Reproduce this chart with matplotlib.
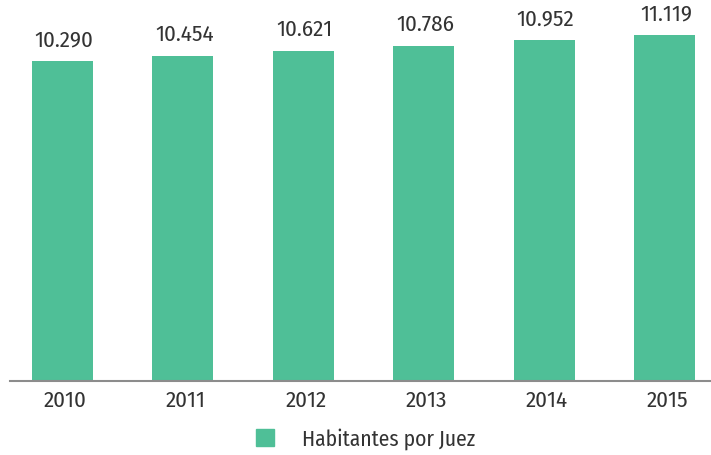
import matplotlib
matplotlib.use("Agg")
import matplotlib.pyplot as plt
import matplotlib.transforms as mtransforms
from matplotlib.font_manager import fontManager
from matplotlib.patches import Patch

years = ["2010", "2011", "2012", "2013", "2014", "2015"]
values = [10290, 10454, 10621, 10786, 10952, 11119]
labels = ["10.290", "10.454", "10.621", "10.786", "10.952", "11.119"]
series_name = "Habitantes por Juez"

names = {f.name for f in fontManager.ttflist}
fam = "DejaVu Sans"
for cand in ["Fira Sans Condensed", "Fira Sans", "Encode Sans Condensed",
             "Roboto Condensed", "PT Sans Narrow", "Open Sans"]:
    if cand in names:
        fam = cand
        break
plt.rcParams["font.family"] = [fam, "DejaVu Sans"]

bar_color = "#4fbf97"
text_color = "#333333"

fig = plt.figure(figsize=(7.11, 4.56), dpi=100)
ax = fig.add_axes([10/711, (456-382)/456, 701/711, 382/456])
x = list(range(len(years)))
ax.bar(x, values, width=0.507, color=bar_color, zorder=2)
ax.set_xlim(-0.436, 5.386)
ax.set_ylim(0, 12283)
for xi, v, lab in zip(x, values, labels):
    ax.annotate(lab, (xi, v), xytext=(1, 8), textcoords="offset points",
                ha="center", va="bottom", fontsize=16.5, color=text_color)
for s in ["top", "right", "left"]:
    ax.spines[s].set_visible(False)
ax.spines["bottom"].set_color("#8c8c8c")
ax.spines["bottom"].set_linewidth(1.5)
ax.set_yticks([])
ax.set_xticks(x)
ax.set_xticklabels(years, fontsize=16.5, color=text_color)
ax.tick_params(axis="x", length=0, pad=6)
offset = mtransforms.ScaledTranslation(3/100, 0, fig.dpi_scale_trans)
for t in ax.get_xticklabels():
    t.set_transform(t.get_transform() + offset)

fig.legend(handles=[Patch(color=bar_color, label=series_name)],
           loc="center", bbox_to_anchor=(366/711, 1 - 439/456), frameon=False,
           fontsize=15.5, handlelength=0.84, handleheight=0.84, handletextpad=1.3,
           labelcolor=text_color)

fig.savefig("out.png", dpi=100)
